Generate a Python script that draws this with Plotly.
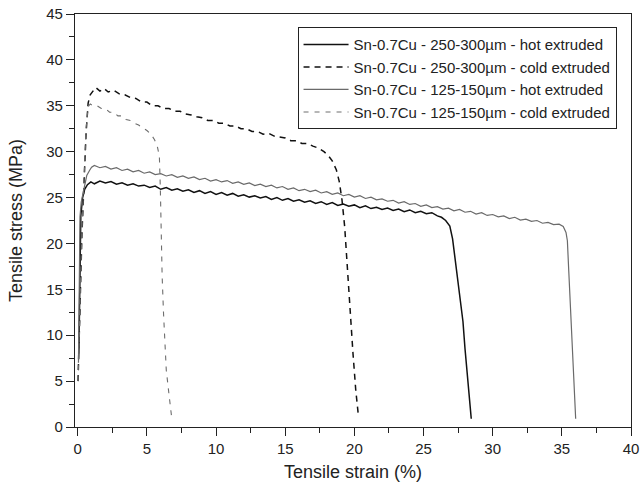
import plotly.graph_objects as go

# ---------------- data ----------------
series_names = [
    "Sn-0.7Cu - 250-300µm - hot extruded",
    "Sn-0.7Cu - 250-300µm - cold extruded",
    "Sn-0.7Cu - 125-150µm - hot extruded",
    "Sn-0.7Cu - 125-150µm - cold extruded",
]

strain_hot_250 = [0.08, 0.14, 0.22, 0.35, 0.5, 0.7, 0.95,
    1.2, 1.6, 2.0, 2.4, 2.8, 3.2, 3.6, 4.0, 4.4, 4.8, 5.2, 5.6, 6.0, 6.4, 6.8, 7.2, 7.6, 8.0,
    8.4, 8.8, 9.2, 9.6, 10.0, 10.4, 10.8, 11.2, 11.6, 12.0, 12.4, 12.8, 13.2, 13.6, 14.0, 14.4,
    14.8, 15.2, 15.6, 16.0, 16.4, 16.8, 17.2, 17.6, 18.0, 18.4, 18.8, 19.2, 19.6, 20.0, 20.4,
    20.8, 21.2, 21.6, 22.0, 22.4, 22.8, 23.2, 23.6, 24.0, 24.4, 24.8, 25.2, 25.6, 26.0,
    26.3, 26.6, 26.9, 27.1, 27.3, 27.5, 27.7, 27.85, 28.0, 28.2, 28.45]
stress_hot_250 = [8.0, 18.0, 23.0, 25.0, 25.9, 26.4, 26.7,
    26.5, 26.8, 26.6, 26.75, 26.45, 26.6, 26.35, 26.5, 26.25, 26.35, 26.1, 26.25, 25.9, 26.1,
    25.8, 25.95, 25.7, 25.85, 25.55, 25.75, 25.45, 25.65, 25.35, 25.55, 25.25, 25.45, 25.15,
    25.3, 25.05, 25.2, 24.95, 25.1, 24.8, 25.0, 24.7, 24.9, 24.6, 24.75, 24.5, 24.65, 24.35,
    24.55, 24.25, 24.45, 24.15, 24.3, 24.05, 24.2, 23.9, 24.1, 23.8, 23.95, 23.7, 23.85, 23.6,
    23.75, 23.45, 23.65, 23.35, 23.5, 23.25, 23.35, 23.0,
    22.85, 22.5, 21.9, 20.5, 18.0, 15.5, 13.0, 11.5, 8.5, 5.0, 0.9]

strain_cold_250 = [0.02, 0.15, 0.3, 0.45, 0.6, 0.75, 0.9, 1.1, 1.3, 1.6, 1.9, 2.2, 2.6, 3.0,
    3.4, 3.8, 4.2, 4.6, 5.0, 5.4, 5.8, 6.2, 6.6, 7.0, 7.4, 7.8, 8.2, 8.6, 9.0, 9.4, 9.8, 10.2,
    10.6, 11.0, 11.4, 11.8, 12.2, 12.6, 13.0, 13.4, 13.8, 14.2, 14.6, 15.0, 15.4, 15.8, 16.2,
    16.6, 17.0, 17.4, 17.8, 18.1, 18.4, 18.7, 18.9, 19.1, 19.3, 19.5, 19.7, 19.9, 20.1, 20.3]
stress_cold_250 = [5.0, 14.0, 21.0, 26.5, 32.0, 35.3, 36.2, 36.6, 37.0, 36.6, 36.9, 36.5, 36.7,
    36.3, 36.2, 35.9, 35.8, 35.4, 35.4, 35.0, 35.0, 34.7, 34.7, 34.4, 34.4, 34.1, 34.0, 33.8,
    33.7, 33.4, 33.4, 33.1, 33.1, 32.8, 32.8, 32.5, 32.5, 32.2, 32.2, 31.9, 32.0, 31.7, 31.6,
    31.5, 31.2, 31.2, 30.9, 30.9, 30.6, 30.4, 30.0, 29.6, 29.0, 28.0, 26.8, 24.8, 21.8, 17.0,
    12.0, 8.0, 4.0, 1.1]

strain_hot_125 = [0.05, 0.1, 0.16, 0.25, 0.38, 0.5, 0.65, 0.87, 1.0,
    1.2, 1.6, 2.0, 2.4, 2.8, 3.2, 3.6, 4.0, 4.4, 4.8, 5.2, 5.6, 6.0, 6.4, 6.8, 7.2, 7.6, 8.0,
    8.4, 8.8, 9.2, 9.6, 10.0, 10.4, 10.8, 11.2, 11.6, 12.0, 12.4, 12.8, 13.2, 13.6, 14.0, 14.4,
    14.8, 15.2, 15.6, 16.0, 16.4, 16.8, 17.2, 17.6, 18.0, 18.4, 18.8, 19.2, 19.6, 20.0, 20.4,
    20.8, 21.2, 21.6, 22.0, 22.4, 22.8, 23.2, 23.6, 24.0, 24.4, 24.8, 25.2, 25.6, 26.0, 26.4,
    26.8, 27.2, 27.6, 28.0, 28.4, 28.8, 29.2, 29.6, 30.0, 30.4, 30.8, 31.2, 31.6, 32.0, 32.4,
    32.8, 33.2, 33.6, 34.0, 34.4, 34.8,
    35.1, 35.3, 35.4, 35.5, 35.6, 35.7, 35.8, 35.9, 36.0]
stress_hot_125 = [7.0, 15.0, 22.9, 24.5, 25.5, 26.5, 27.4, 28.0, 28.3,
    28.5, 28.25, 28.4, 28.1, 28.25, 27.95, 28.1, 27.8, 27.95, 27.65, 27.8, 27.5, 27.6, 27.35,
    27.5, 27.2, 27.35, 27.1, 27.25, 26.95, 27.1, 26.8, 26.95, 26.7, 26.85, 26.55, 26.7, 26.45,
    26.6, 26.3, 26.45, 26.2, 26.35, 26.05, 26.2, 25.9, 26.05, 25.75, 25.9, 25.65, 25.8, 25.5,
    25.65, 25.35, 25.5, 25.2, 25.35, 25.05, 25.2, 24.9, 25.05, 24.75, 24.85, 24.6, 24.7, 24.4,
    24.55, 24.25, 24.35, 24.05, 24.2, 23.9, 24.0, 23.75, 23.85, 23.55, 23.7, 23.4, 23.5, 23.2,
    23.35, 23.05, 23.15, 22.9, 23.0, 22.7, 22.85, 22.55, 22.65, 22.4, 22.5, 22.2, 22.3, 22.05,
    22.1,
    21.85, 21.2, 20.3, 17.0, 13.5, 10.0, 6.5, 3.5, 0.9]

strain_cold_125 = [0.02, 0.15, 0.3, 0.45, 0.6, 0.75, 0.9, 1.1, 1.4, 1.7, 2.0, 2.3, 2.6, 2.9,
    3.2, 3.5, 3.8, 4.1, 4.4, 4.7, 5.0, 5.3, 5.55, 5.75, 5.9, 5.97, 6.02, 6.1, 6.2, 6.3, 6.4,
    6.6, 6.8]
stress_cold_125 = [5.0, 14.0, 21.5, 27.0, 32.5, 34.9, 35.2, 35.0, 35.0, 34.7, 34.7, 34.3, 34.3,
    33.9, 33.9, 33.5, 33.4, 33.1, 32.9, 32.6, 32.3, 31.9, 31.3, 30.6, 29.5, 26.0, 21.5, 16.5,
    12.4, 9.0, 6.2, 3.5, 0.9]

x_ticks = [0, 5, 10, 15, 20, 25, 30, 35, 40]
y_ticks = [0, 5, 10, 15, 20, 25, 30, 35, 40, 45]

# ---------------- figure ----------------
FONT = "Liberation Sans, Arial, Helvetica, sans-serif"
fig = go.Figure()
fig.add_trace(go.Scatter(x=strain_hot_250, y=stress_hot_250, mode="lines", name=series_names[0],
                         line=dict(color="#111111", width=1.5)))
fig.add_trace(go.Scatter(x=strain_cold_250, y=stress_cold_250, mode="lines", name=series_names[1],
                         line=dict(color="#111111", width=1.5, dash="6px,5px")))
fig.add_trace(go.Scatter(x=strain_hot_125, y=stress_hot_125, mode="lines", name=series_names[2],
                         line=dict(color="#6a6a6a", width=1.2)))
fig.add_trace(go.Scatter(x=strain_cold_125, y=stress_cold_125, mode="lines", name=series_names[3],
                         line=dict(color="#6e6e6e", width=1.1, dash="5px,6px")))

axis_common = dict(
    showgrid=False, zeroline=False, showline=True, linecolor="#222222", linewidth=1.2,
    mirror=True, ticks="outside", ticklen=8, tickwidth=1.2, tickcolor="#222222",
    tickfont=dict(size=15, color="#222222", family=FONT), automargin=False,
)
fig.update_xaxes(range=[-0.2, 40], tickvals=x_ticks, ticktext=[str(v) for v in x_ticks],
                 title=dict(text="Tensile strain (%)", font=dict(size=18, color="#222222", family=FONT), standoff=9),
                 minor=dict(dtick=2.5, tick0=0, ticks="outside", ticklen=5, tickwidth=1.2, tickcolor="#222222"),
                 **axis_common)
fig.update_yaxes(range=[0, 45], tickvals=y_ticks, ticktext=[str(v) for v in y_ticks],
                 title=dict(text="Tensile stress (MPa)", font=dict(size=18, color="#222222", family=FONT), standoff=18),
                 minor=dict(dtick=2.5, tick0=0, ticks="outside", ticklen=5, tickwidth=1.2, tickcolor="#222222"),
                 **axis_common)

fig.update_layout(
    width=642, height=486,
    margin=dict(l=75, r=10.5, t=14, b=59.3),
    plot_bgcolor="white", paper_bgcolor="white",
    font=dict(family=FONT, color="#222222"),
    legend=dict(x=0.974, y=0.968, xanchor="right", yanchor="top",
                bgcolor="white", bordercolor="#222222", borderwidth=1,
                font=dict(size=15, family=FONT, color="#222222"),
                tracegroupgap=0, itemwidth=45),
    showlegend=True,
)

# remove the browser's default 8px body margin so the figure fills the window
fig.write_html("out.html", config={"displayModeBar": False},
               post_script="document.body.style.margin='0';")
